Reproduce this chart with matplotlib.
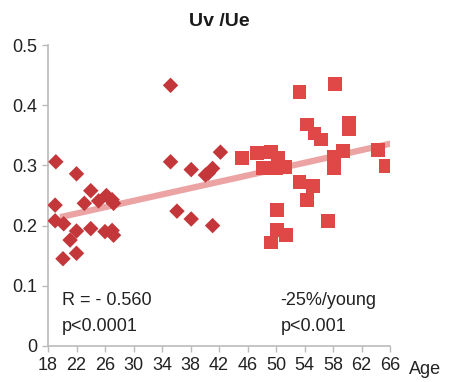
import numpy as np
import matplotlib
matplotlib.use("Agg")
import matplotlib.pyplot as plt

plt.rcParams['font.family'] = ['Liberation Sans', 'DejaVu Sans']

# Young group (diamonds)
young_age = [19.1, 22.0, 24.0, 19.0, 23.1, 25.1, 26.2, 27.0, 27.2, 19.0,
             20.2, 22.0, 24.0, 26.0, 27.0, 27.2, 21.1, 22.0, 20.1,
             35.2, 35.2, 42.2, 38.1, 40.1, 40.5, 41.1, 36.1, 38.1, 41.1]
young_val = [0.306, 0.286, 0.258, 0.234, 0.237, 0.241, 0.250, 0.243, 0.237, 0.208,
             0.203, 0.191, 0.195, 0.190, 0.192, 0.184, 0.176, 0.154, 0.145,
             0.433, 0.306, 0.322, 0.293, 0.284, 0.287, 0.295, 0.224, 0.211, 0.200]

# Older group (squares)
old_age = [45.2, 47.3, 49.3, 50.3, 51.3, 48.2, 50.0, 53.3, 55.2, 54.3,
           50.2, 57.3, 50.2, 51.4, 49.3, 53.3, 58.3, 54.3, 55.4, 56.3,
           60.3, 60.3, 59.4, 58.2, 58.2, 64.3, 65.4]
old_val = [0.312, 0.321, 0.322, 0.312, 0.297, 0.295, 0.295, 0.272, 0.266, 0.243,
           0.226, 0.208, 0.192, 0.184, 0.172, 0.422, 0.435, 0.368, 0.353, 0.343,
           0.370, 0.360, 0.324, 0.314, 0.295, 0.325, 0.299]

# Trend line
trend_age = [19.7, 66.4]
trend_val = [0.214, 0.337]

x_ticks = list(range(18, 67, 4))
y_ticks = [0, 0.1, 0.2, 0.3, 0.4, 0.5]
y_ticklabels = ['0', '0.1', '0.2', '0.3', '0.4', '0.5']

fig = plt.figure(figsize=(4.49, 3.82), dpi=100)
ax = fig.add_axes([48/449, 1-346/382, (390-48)/449, (346-45)/382])

ax.plot(trend_age, trend_val, color='#EBA3A3', lw=4.5, solid_capstyle='butt', zorder=1)
ax.scatter(young_age, young_val, marker='D', s=62, color='#C3373B', edgecolors='none', zorder=3)
ax.scatter(old_age, old_val, marker='s', s=100, color='#E04848', edgecolors='none', zorder=2)

ax.set_xlim(18, 66)
ax.set_ylim(0, 0.5)
ax.set_xticks(x_ticks)
ax.set_xticklabels([str(t) for t in x_ticks])
ax.set_yticks(y_ticks)
ax.set_yticklabels(y_ticklabels)

for s in ['top', 'right']:
    ax.spines[s].set_visible(False)
for s in ['left', 'bottom']:
    ax.spines[s].set_color('#BBBBBB')
    ax.spines[s].set_linewidth(1.2)
ax.tick_params(axis='both', colors='#BBBBBB', labelcolor='#222222', labelsize=13, length=4, width=1)
ax.tick_params(axis='x', pad=4)
ax.tick_params(axis='y', pad=4)

ax.set_title('Uv /Ue', fontsize=14, fontweight='bold', pad=14, color='#1A1A1A')

fig.text(425/449, 1-369/382, 'Age', fontsize=13, ha='center', va='center', color='#222222')

ax.text(0.04, 0.15, 'R = - 0.560', transform=ax.transAxes, fontsize=13, ha='left', va='center', color='#222222')
ax.text(0.04, 0.066, 'p<0.0001', transform=ax.transAxes, fontsize=13, ha='left', va='center', color='#222222')
ax.text(0.68, 0.15, '-25%/young', transform=ax.transAxes, fontsize=13, ha='left', va='center', color='#222222')
ax.text(0.68, 0.066, 'p<0.001', transform=ax.transAxes, fontsize=13, ha='left', va='center', color='#222222')

fig.savefig('out.png', dpi=100)
